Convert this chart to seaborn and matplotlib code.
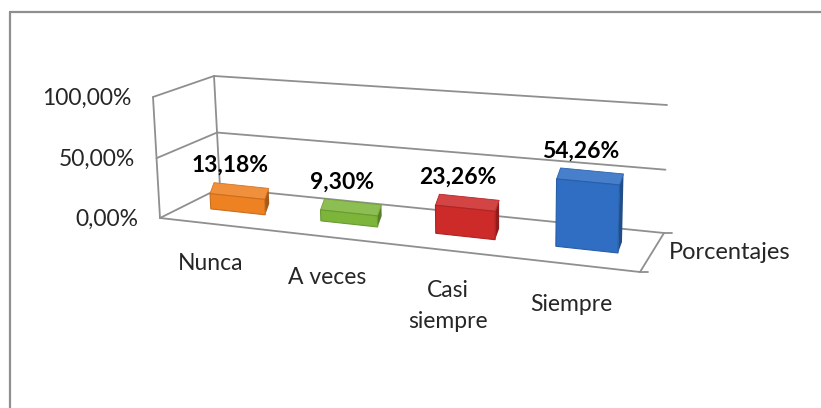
import numpy as np
import pandas as pd
import matplotlib
matplotlib.use('Agg')
import matplotlib.pyplot as plt
import matplotlib.transforms as mtransforms
from matplotlib.patches import Polygon
from matplotlib.lines import Line2D
from matplotlib.colors import to_rgb
import seaborn as sns

categorias = ['Nunca', 'A veces', 'Casi\nsiempre', 'Siempre']
porcentajes = [13.18, 9.30, 23.26, 54.26]
etiquetas = ['13,18%', '9,30%', '23,26%', '54,26%']
ticks = [0, 50, 100]
tick_labels = ['0,00%', '50,00%', '100,00%']
serie = 'Porcentajes'
colores = ['#EE8122', '#7DB53B', '#CD2A2A', '#2F6EC3']

ANCHO, ALTO = 821, 408
GRIS = '#8f8f8f'

sns.set_style('white')
plt.rcParams['font.family'] = ['Lato', 'DejaVu Sans']


# perspectiva del grafico 3D: pared de fondo y plano frontal (pixeles de imagen)
def homografia(src, dst):
    A, b = [], []
    for (u, v), (x, y) in zip(src, dst):
        A.append([u, v, 1, 0, 0, 0, -u * x, -v * x]); b.append(x)
        A.append([0, 0, 0, u, v, 1, -u * y, -v * y]); b.append(y)
    h = np.linalg.solve(np.array(A, float), np.array(b, float))
    return np.append(h, 1).reshape(3, 3)


esquinas = [(0, 0), (1, 0), (0, 1), (1, 1)]
H_fondo = homografia(esquinas, [(220, 188), (664, 233), (214, 76), (667, 105)])
H_frente = homografia(esquinas, [(160, 218), (640, 272), (153, 97), (644, 145)])


def aplicar(Hm, u, v):
    p = Hm @ np.vstack([u, v, np.ones_like(u)])
    return p[0] / p[2], p[1] / p[2]


def proyectar(u, v, d):
    u = np.atleast_1d(np.asarray(u, float))
    v = np.atleast_1d(np.asarray(v, float))
    xb, yb = aplicar(H_fondo, u, v)
    xf, yf = aplicar(H_frente, u, v)
    x = (1 - d) * xb + d * xf
    y = (1 - d) * yb + d * yf
    return np.column_stack([x, ALTO - y])


class Proyeccion(mtransforms.Transform):
    input_dims = 2
    output_dims = 2

    def __init__(self, ax, d):
        super().__init__()
        self.ax = ax
        self.d = d

    def transform_non_affine(self, values):
        values = np.asarray(values, float)
        x0, x1 = self.ax.get_xlim()
        y0, y1 = self.ax.get_ylim()
        return proyectar((values[:, 0] - x0) / (x1 - x0),
                         (values[:, 1] - y0) / (y1 - y0), self.d)


def tono(c, f):
    r = np.array(to_rgb(c))
    return tuple(np.clip(r * f if f < 1 else r + (1 - r) * (f - 1), 0, 1))


df = pd.DataFrame({'categoria': categorias, 'valor': porcentajes})

fig = plt.figure(figsize=(ANCHO / 100, ALTO / 100), dpi=100)
ax = fig.add_axes([0, 0, 1, 1])
sns.barplot(data=df, x='categoria', y='valor', hue='categoria', palette=colores,
            legend=False, width=0.5, saturation=1, ax=ax)
ax.set_xlim(-0.5, 3.5)
ax.set_ylim(0, 100)
ax.axis('off')

ident = mtransforms.IdentityTransform()
D_FRENTE = 0.6
FONDO_BARRA = np.array([4, 11])   # desplazamiento de la cara trasera (px)


def linea(p, q, **kw):
    ax.add_line(Line2D([p[0], q[0]], [p[1], q[1]], transform=ident, clip_on=False,
                       color=GRIS, lw=1.3, zorder=1, **kw))


# paredes y piso
for t in ticks:
    v = t / 100
    linea(proyectar(0, v, 0)[0], proyectar(1, v, 0)[0])
    linea(proyectar(0, v, 0)[0], proyectar(0, v, 1)[0])
for d in (0, 1):
    linea(proyectar(0, 0, d)[0], proyectar(0, 1, d)[0])
linea(proyectar(0, 0, 1)[0], proyectar(1, 0, 1)[0])
linea(proyectar(1, 0, 0)[0], proyectar(1, 0, 1)[0])
for d in (0, 1):
    p = proyectar(1, 0, d)[0]
    linea(p, p + np.array([8, 0]))

# marco del grafico
fig.add_artist(Line2D([10, ANCHO], [ALTO - 12, ALTO - 12], transform=ident, color=GRIS, lw=1.6))
fig.add_artist(Line2D([10, 10], [0, ALTO - 12], transform=ident, color=GRIS, lw=1.6))

# barras 3D
proy_frente = Proyeccion(ax, D_FRENTE)
for i, barra in enumerate(ax.patches):
    x0, w, h = barra.get_x(), barra.get_width(), barra.get_height()
    c = colores[i]
    x0n, x1n = (x0 + 0.5) / 4, (x0 + w + 0.5) / 4
    hn = h / 100
    a = proyectar(x0n, hn, D_FRENTE)[0]
    b = proyectar(x1n, hn, D_FRENTE)[0]
    b0 = proyectar(x1n, 0, D_FRENTE)[0]
    lado = np.vstack([b0, b, b + FONDO_BARRA, b0 + FONDO_BARRA])
    arriba = np.vstack([a, b, b + FONDO_BARRA, a + FONDO_BARRA])
    ax.add_patch(Polygon(lado, closed=True, transform=ident, clip_on=False,
                         facecolor=tono(c, 0.7), edgecolor='none', zorder=3))
    ax.add_patch(Polygon(arriba, closed=True, transform=ident, clip_on=False,
                         facecolor=tono(c, 1.12), edgecolor=tono(c, 0.9), lw=0.6,
                         joinstyle='round', zorder=3))
    barra.set_transform(proy_frente)
    barra.set_clip_on(False)
    barra.set_zorder(4)
    barra.set_edgecolor(tono(c, 0.85))
    barra.set_linewidth(0.8)

    xc = (i + 0.5) / 4
    p = proyectar(xc, hn, D_FRENTE)[0]
    ax.text(p[0] - 7, p[1] + 31, etiquetas[i], transform=ident, ha='center', va='center',
            fontsize=16.5, fontweight='bold', color='black', zorder=5)
    q = proyectar(xc, 0, 1)[0]
    ax.text(q[0] - 6, q[1] - 29, categorias[i], transform=ident, ha='center', va='top',
            fontsize=16.5, color='#262626', linespacing=1.6, zorder=5)

# etiquetas del eje de valores
for t, lab in zip(ticks, tick_labels):
    p = proyectar(0, t / 100, 1)[0]
    ax.text(p[0] - 22, p[1] - 1, lab, transform=ident, ha='right', va='center',
            fontsize=16.5, color='#262626')

p = proyectar(1, 0, 0.5)[0]
ax.text(p[0] + 17, p[1], serie, transform=ident, ha='left', va='center',
        fontsize=17, color='#262626')

fig.savefig('out.png', dpi=100)
